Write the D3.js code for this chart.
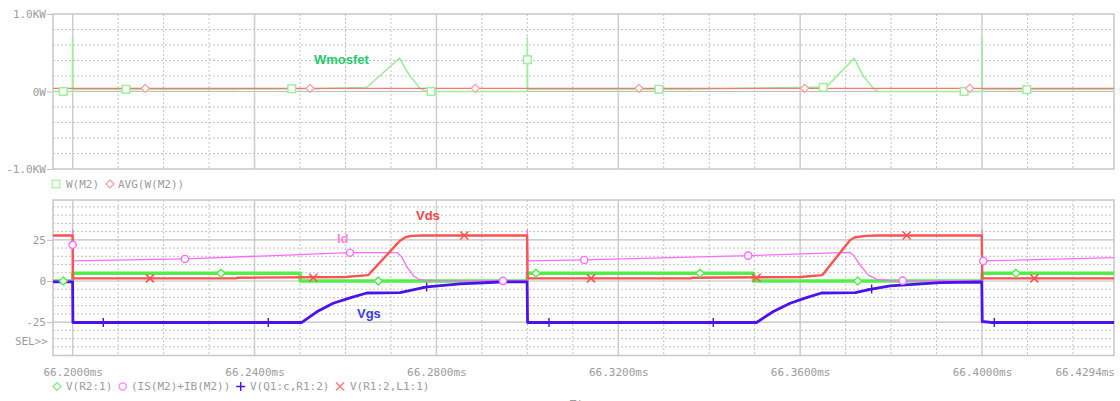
<!DOCTYPE html>
<html><head><meta charset="utf-8">
<script src="https://cdn.jsdelivr.net/npm/d3@7"></script>
<style>body{margin:0;background:#fff}svg{display:block}</style>
</head><body>
<svg id="c" width="1120" height="401"></svg>
<script>
// ---------- data (time in ms) ----------
const timeDomain = [66.19567, 66.42903];
const majorTimes = [66.20, 66.24, 66.28, 66.32, 66.36, 66.40];
const minorTimes = [66.21, 66.22, 66.23, 66.25, 66.26, 66.27, 66.29, 66.30, 66.31, 66.33, 66.34, 66.35, 66.37, 66.38, 66.39, 66.41, 66.42];
const timeTickValues = [66.20, 66.24, 66.28, 66.32, 66.36, 66.40, 66.4294];
const timeTickLabels = ["66.2000ms", "66.2400ms", "66.2800ms", "66.3200ms", "66.3600ms", "66.4000ms", "66.4294ms"];

const powerDomain = [-1, 1];
const powerTickValues = [1, 0, -1];
const powerTickLabels = ["1.0KW", "0W", "-1.0KW"];
const powerGrid = [-0.8, -0.6, -0.4, -0.2, 0.2, 0.4, 0.6, 0.8];

const voltDomain = [-45.26, 49.21];
const voltTickValues = [25, 0, -25];
const voltTickLabels = ["25", "0", "-25"];
const voltGrid = [-40, -35, -30, -20, -15, -10, -5, 5, 10, 15, 20, 30, 35, 40, 45];

// W(M2) in KW
const wM2 = [[66.19567,0.0],[66.19995,0.0],[66.2000,0.69],[66.20005,0.025],[66.2360,0.027],[66.2362,0.030],[66.2530,0.035],[66.2640,0.05],[66.2647,0.055],[66.2719,0.43],[66.2730,0.31],[66.2742,0.20],[66.2764,0.04],[66.2779,0.0],[66.29995,0.0],[66.3000,0.70],[66.30005,0.025],[66.3361,0.027],[66.3363,0.030],[66.3624,0.054],[66.3658,0.06],[66.3719,0.43],[66.3729,0.31],[66.3739,0.20],[66.3761,0.04],[66.3772,0.0],[66.39995,0.0],[66.4000,0.70],[66.40005,0.025],[66.42903,0.027]];
const avgWM2 = [[66.19567,0.041],[66.42903,0.041]];
const wM2Markers = [[66.19793,0.0],[66.21172,0.028],[66.24817,0.036],[66.27881,0.0],[66.3000,0.41],[66.32895,0.028],[66.36509,0.054],[66.39605,0.0],[66.40983,0.024]];
const avgMarkers = [[66.21597,0.041],[66.25220,0.041],[66.28857,0.041],[66.32455,0.041],[66.36099,0.041],[66.39728,0.041]];

// V(R2:1)
const vR2 = [[66.19567,0],[66.19998,0],[66.20005,4.7],[66.2500,4.7],[66.25005,0],[66.29995,0],[66.30005,4.7],[66.3497,4.7],[66.34975,0],[66.39995,0],[66.40005,4.7],[66.42903,4.7]];
const vR2Markers = [[66.19793,0],[66.23262,4.7],[66.26721,0],[66.30190,4.7],[66.33797,4.7],[66.37265,0],[66.40747,4.7]];

// (IS(M2)+IB(M2))  -> Id
const idM2 = [[66.19567,0.2],[66.19995,0.2],[66.2000,31],[66.20003,22],[66.20008,12.2],[66.2247,13.4],[66.2610,17.2],[66.2714,17.2],[66.2724,14.5],[66.2735,8.5],[66.2742,6.0],[66.2750,3.0],[66.2762,1.0],[66.2780,0.4],[66.29995,0.1],[66.3000,31],[66.30008,12.2],[66.3125,12.8],[66.3486,15.4],[66.3709,17.4],[66.3717,15.8],[66.3732,9.7],[66.3750,3.6],[66.3769,1.0],[66.3800,0.3],[66.39995,0.1],[66.4000,31],[66.40008,12.2],[66.42903,14.2]];
const idMarkers = [[66.2000,22],[66.2247,13.4],[66.26099,17.2],[66.29464,0.1],[66.31252,12.8],[66.34859,15.4],[66.38255,0.2],[66.40028,12.2]];

// V(Q1:c,R1:2) -> Vgs
const vgs = [[66.19567,-0.5],[66.19998,-0.5],[66.20005,-25.2],[66.2504,-25.2],[66.2537,-18.7],[66.2573,-13.5],[66.2610,-10.3],[66.2647,-7.3],[66.2720,-7.1],[66.2779,-3.6],[66.2852,-1.8],[66.2940,-0.6],[66.29995,-0.5],[66.30005,-25.2],[66.3504,-25.2],[66.3540,-18.7],[66.3578,-13.5],[66.3614,-10.1],[66.3647,-7.3],[66.3721,-7.1],[66.3757,-4.9],[66.3798,-2.9],[66.3908,-1.0],[66.39995,-0.6],[66.40005,-24.6],[66.4020,-25.2],[66.42903,-25.2]];
const vgsMarkers = [[66.20673,-25.2],[66.24302,-25.2],[66.27786,-3.6],[66.30476,-25.2],[66.34089,-25.2],[66.37573,-4.9],[66.40270,-25.2]];

// V(R1:2,L1:1) -> Vds
const vds = [[66.19567,27.6],[66.19998,27.6],[66.20005,1.6],[66.2360,1.6],[66.2362,2.0],[66.2600,2.4],[66.2650,3.6],[66.2720,24.5],[66.2732,26.6],[66.2745,27.4],[66.2770,27.6],[66.29995,27.6],[66.30005,1.6],[66.3360,1.6],[66.3362,2.0],[66.3600,2.4],[66.3649,3.6],[66.3710,24.9],[66.3721,26.6],[66.3745,27.4],[66.3770,27.6],[66.39995,27.6],[66.40005,1.6],[66.42903,1.6]];
const vdsMarkers = [[66.21700,1.6],[66.25292,2.0],[66.28613,27.6],[66.31400,1.6],[66.35044,2.0],[66.38343,27.6],[66.41150,1.6]];

const topLegend = ["W(M2)", "AVG(W(M2))"];
const bottomLegend = ["V(R2:1)", "(IS(M2)+IB(M2))", "V(Q1:c,R1:2)", "V(R1:2,L1:1)"];

// ---------- layout ----------
const L = 53, R = 1114;
const top1 = 14, bot1 = 169;
const top2 = 200, bot2 = 355.5;
const MONO = "'DejaVu Sans Mono', monospace";
const GRAY = "#9c9c9c";
const GRID = "#c4c4c4";

const svg = d3.select("#c");
const x = d3.scaleLinear().domain(timeDomain).range([L, R]);
const yP = d3.scaleLinear().domain(powerDomain).range([bot1, top1]);
const yV = d3.scaleLinear().domain(voltDomain).range([bot2, top2]);

const defs = svg.append("defs");
defs.append("clipPath").attr("id","clip1").append("rect").attr("x",L).attr("y",top1).attr("width",R-L).attr("height",bot1-top1);
defs.append("clipPath").attr("id","clip2").append("rect").attr("x",L).attr("y",top2).attr("width",R-L).attr("height",bot2-top2);

function grid(g, y, t, b, hGrid, hSolid) {
  g.selectAll(".vmin").data(minorTimes).join("line")
    .attr("x1", d=>x(d)).attr("x2", d=>x(d)).attr("y1", t).attr("y2", b)
    .attr("stroke", GRID).attr("stroke-width", 1).attr("stroke-dasharray", "2,2");
  g.selectAll(".hmin").data(hGrid).join("line").attr("class","hmin")
    .attr("x1", L).attr("x2", R).attr("y1", d=>y(d)).attr("y2", d=>y(d))
    .attr("stroke", GRID).attr("stroke-width", 1).attr("stroke-dasharray", "2,2");
  g.selectAll(".vmaj").data(majorTimes).join("line").attr("class","vmaj")
    .attr("x1", d=>x(d)).attr("x2", d=>x(d)).attr("y1", t).attr("y2", b)
    .attr("stroke", "#cdcdcd").attr("stroke-width", 1.5);
  g.selectAll(".hmaj").data(hSolid).join("line").attr("class","hmaj")
    .attr("x1", L).attr("x2", R).attr("y1", d=>y(d)).attr("y2", d=>y(d))
    .attr("stroke", "#c0c0c0").attr("stroke-width", 1.2);
  g.append("rect").attr("x", L).attr("y", t).attr("width", R-L).attr("height", b-t)
    .attr("fill", "none").attr("stroke", "#c8c8c8").attr("stroke-width", 1.5);
}

const g1 = svg.append("g");
grid(g1, yP, top1, bot1, powerGrid, [0]);
const g2 = svg.append("g");
grid(g2, yV, top2, bot2, voltGrid, [25, 0, -25]);

// y axes
function yAxis(scale, vals, labels) {
  const ax = d3.axisLeft(scale).tickValues(vals).tickSize(6).tickPadding(1)
    .tickFormat((d,i)=>labels[i]);
  const g = svg.append("g").attr("transform", `translate(${L},0)`).call(ax);
  g.select(".domain").remove();
  g.selectAll("line").attr("stroke", "#c0c0c0");
  g.selectAll("text").attr("fill", GRAY).style("font-family", MONO).style("font-size", "11px");
}
yAxis(yP, powerTickValues, powerTickLabels);
yAxis(yV, voltTickValues, voltTickLabels);

svg.append("text").attr("x", 48).attr("y", yV(-36.5)).attr("dy", "0.32em")
  .attr("text-anchor", "end").attr("fill", GRAY).style("font-family", MONO).style("font-size", "11px").text("SEL>>");

// x axis
const xa = d3.axisBottom(x).tickValues(timeTickValues).tickSize(0).tickPadding(13)
  .tickFormat((d,i)=>timeTickLabels[i]);
const xg = svg.append("g").attr("transform", `translate(0,${bot2})`).call(xa);
xg.select(".domain").remove();
xg.selectAll("text").attr("fill", GRAY).style("font-family", MONO).style("font-size", "11px");
xg.selectAll(".tick").filter((d,i)=>i===timeTickValues.length-1)
  .attr("transform", `translate(${R+1},0)`).select("text").attr("text-anchor", "end");

svg.append("text").attr("x", 583).attr("y", 408).attr("text-anchor", "middle")
  .attr("fill", GRAY).style("font-family", MONO).style("font-size", "11px").text("Time");

// ---------- markers ----------
function marker(g, type, cx, cy, color, sw) {
  sw = sw || 1.2;
  if (type === "square") {
    g.append("rect").attr("x", cx-3.8).attr("y", cy-3.8).attr("width", 7.6).attr("height", 7.6)
      .attr("fill", "#fff").attr("stroke", color).attr("stroke-width", sw);
  } else if (type === "diamond") {
    g.append("path").attr("d", `M${cx},${cy-4}L${cx+4},${cy}L${cx},${cy+4}L${cx-4},${cy}Z`)
      .attr("fill", "#fff").attr("stroke", color).attr("stroke-width", sw);
  } else if (type === "circle") {
    g.append("circle").attr("cx", cx).attr("cy", cy).attr("r", 3.6)
      .attr("fill", "#fff").attr("stroke", color).attr("stroke-width", sw);
  } else if (type === "plus") {
    g.append("path").attr("d", `M${cx-4.5},${cy}H${cx+4.5}M${cx},${cy-4.5}V${cy+4.5}`)
      .attr("stroke", color).attr("stroke-width", 1.4).attr("fill", "none");
  } else if (type === "x") {
    g.append("path").attr("d", `M${cx-4},${cy-4}L${cx+4},${cy+4}M${cx+4},${cy-4}L${cx-4},${cy+4}`)
      .attr("stroke", color).attr("stroke-width", 1.5).attr("fill", "none");
  }
}

function trace(clip, yS, data, color, width) {
  const line = d3.line().x(d=>x(d[0])).y(d=>yS(d[1]));
  svg.append("path").attr("clip-path", `url(#${clip})`).datum(data).attr("d", line)
    .attr("fill", "none").attr("stroke", color).attr("stroke-width", width)
    .attr("stroke-linejoin", "round");
}
function marks(yS, data, type, color, sw) {
  const g = svg.append("g");
  data.forEach(d => marker(g, type, x(d[0]), yS(d[1]), color, sw));
}

// top plot
const C_W = "#9ef09e", C_AVG = "#ff7474";
trace("clip1", yP, wM2, C_W, 1.6);
trace("clip1", yP, avgWM2, C_AVG, 1.3);
marks(yP, wM2Markers, "square", C_W, 1.5);
marks(yP, avgMarkers, "diamond", "#ff9a9a", 1.2);

// bottom plot
const C_G = "#52ef4a", C_ID = "#ff6cff", C_VGS = "#4a12ee", C_VDS = "#ff5252";
trace("clip2", yV, vR2, C_G, 3.6);
trace("clip2", yV, idM2, C_ID, 1.3);
trace("clip2", yV, vds, C_VDS, 2.4);
trace("clip2", yV, vgs, C_VGS, 2.8);
marks(yV, vR2Markers, "diamond", C_G, 1.4);
marks(yV, idMarkers, "circle", C_ID, 1.4);
marks(yV, vgsMarkers, "plus", C_VGS);
marks(yV, vdsMarkers, "x", C_VDS);

// annotations
function ann(tx, ty, txt, color) {
  svg.append("text").attr("x", tx).attr("y", ty).attr("fill", color)
    .style("font-family", "'Liberation Sans', Arial, sans-serif").style("font-weight", "bold")
    .style("font-size", "13px").text(txt);
}
ann(314, 64, "Wmosfet", "#26cc6a");
ann(416, 220, "Vds", "#ff4444");
ann(337, 243, "Id", "#ff8ad6");
ann(357, 318, "Vgs", "#3b3bef");

// legends
function legendRow(items, types, colors, markX, textX, cy) {
  const g = svg.append("g");
  items.forEach((t, i) => {
    marker(g, types[i], markX[i], cy, colors[i], 1.2);
    g.append("text").attr("x", textX[i]).attr("y", cy).attr("dy", "0.35em")
      .attr("fill", GRAY).style("font-family", MONO).style("font-size", "11px").text(t);
  });
}
legendRow(topLegend, ["square", "diamond"], [C_W, "#ff9a9a"], [56, 110], [66, 118], 184);
legendRow(bottomLegend, ["diamond", "circle", "plus", "x"], ["#7ef07e", "#ff80ff", C_VGS, "#ff7a7a"], [57, 122.7, 240.7, 340], [66, 131, 250, 350], 386.5);
</script>
</body></html>
